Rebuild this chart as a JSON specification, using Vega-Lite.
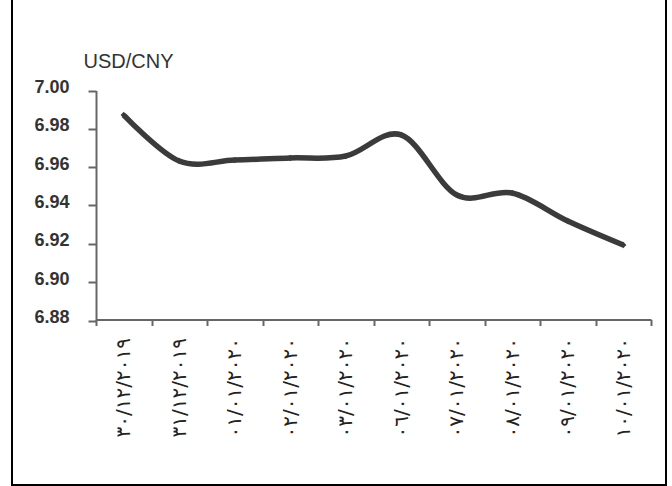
{
  "$schema": "https://vega.github.io/schema/vega-lite/v6.json",
  "autosize": "none",
  "width": 654,
  "height": 487,
  "padding": {"left": 12, "top": -2, "right": 6, "bottom": 1},
  "background": "white",
  "config": {"view": {"stroke": "#000000", "strokeWidth": 2}},
  "data": {
    "values": [
      {"date": "٣٠/١٢/٢٠١٩", "rate": 6.9872},
      {"date": "٣١/١٢/٢٠١٩", "rate": 6.9632},
      {"date": "٠١/٠١/٢٠٢٠", "rate": 6.9637},
      {"date": "٠٢/٠١/٢٠٢٠", "rate": 6.9648},
      {"date": "٠٣/٠١/٢٠٢٠", "rate": 6.9658},
      {"date": "٠٦/٠١/٢٠٢٠", "rate": 6.9768},
      {"date": "٠٧/٠١/٢٠٢٠", "rate": 6.9455},
      {"date": "٠٨/٠١/٢٠٢٠", "rate": 6.9465},
      {"date": "٠٩/٠١/٢٠٢٠", "rate": 6.9319},
      {"date": "١٠/٠١/٢٠٢٠", "rate": 6.9194}
    ]
  },
  "encoding": {
    "x": {
      "field": "date",
      "type": "ordinal",
      "sort": null,
      "scale": {"range": [84, 639], "paddingInner": 0, "paddingOuter": 0},
      "axis": {
        "offset": -165.5,
        "tickBand": "extent",
        "labelAngle": -90,
        "labelAlign": "right",
        "labelBaseline": "middle",
        "labelFont": "DejaVu Sans",
        "labelFontSize": 20,
        "labelFontWeight": "normal",
        "labelColor": "#222222",
        "labelPadding": 12,
        "labelOverlap": false,
        "labelBound": false,
        "tickSize": 6,
        "tickColor": "#666666",
        "tickWidth": 2,
        "domainColor": "#666666",
        "domainWidth": 2,
        "grid": false,
        "title": null
      }
    },
    "y": {
      "field": "rate",
      "type": "quantitative",
      "scale": {"domain": [6.88, 7.0], "range": [322.5, 92.5], "zero": false, "nice": false},
      "axis": {
        "offset": -84,
        "values": [6.88, 6.9, 6.92, 6.94, 6.96, 6.98, 7.0],
        "format": ".2f",
        "labelFont": "Liberation Sans",
        "labelFontSize": 18,
        "labelFontWeight": "bold",
        "labelColor": "#333333",
        "labelPadding": 19,
        "labelOffset": -3,
        "tickSize": 8,
        "tickColor": "#666666",
        "tickWidth": 2,
        "domainColor": "#666666",
        "domainWidth": 2,
        "grid": false,
        "title": "USD/CNY",
        "titleAngle": 0,
        "titleAlign": "left",
        "titleBaseline": "alphabetic",
        "titleX": -13,
        "titleY": 69,
        "titleFont": "Liberation Sans",
        "titleFontSize": 20,
        "titleFontWeight": "normal",
        "titleColor": "#333333"
      }
    }
  },
  "layer": [
    {"mark": {"type": "line", "interpolate": "cardinal", "color": "#3b3b3b", "strokeWidth": 5.5}},
    {"mark": {"type": "point", "shape": "diamond", "filled": true, "size": 40, "color": "#3b3b3b", "opacity": 1}}
  ]
}
